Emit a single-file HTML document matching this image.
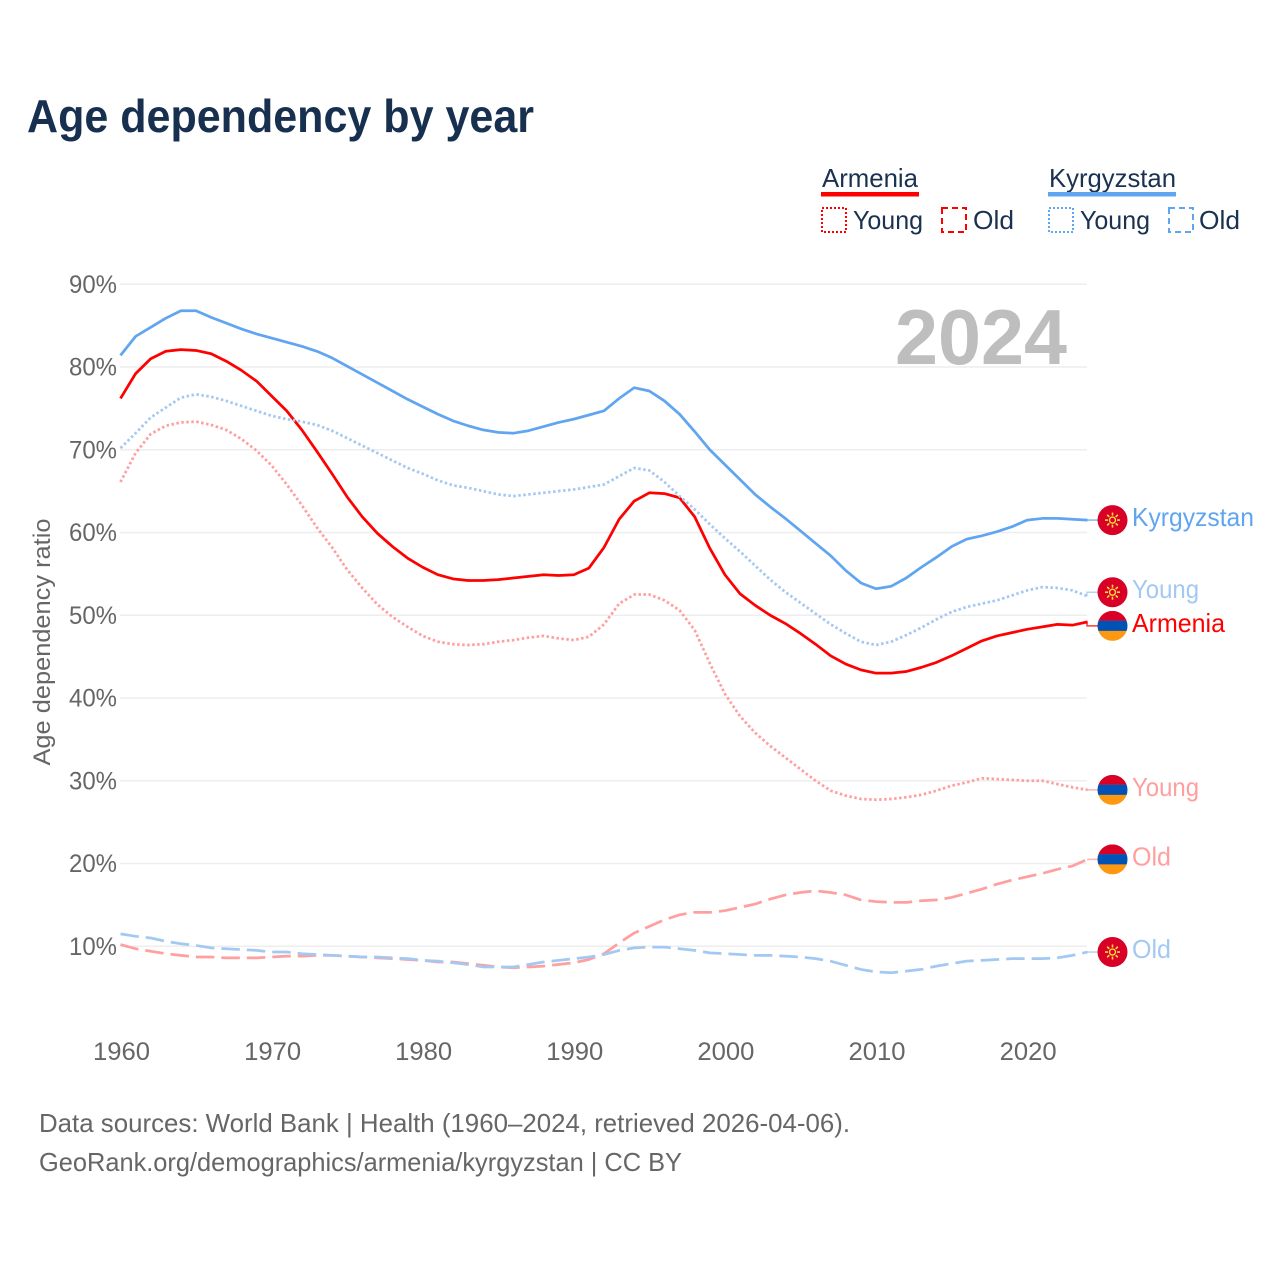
<!DOCTYPE html>
<html lang="en">
<head>
<meta charset="utf-8">
<title>Age dependency by year</title>
<style>
html,body{margin:0;padding:0;background:#fff;}
svg{display:block;font-family:"Liberation Sans",sans-serif;}
</style>
</head>
<body>
<svg id="chart" width="1280" height="1280" viewBox="0 0 1280 1280" xmlns="http://www.w3.org/2000/svg">
  <rect width="1280" height="1280" fill="#fff"/>
  <text x="27" y="132" font-size="46" font-weight="700" fill="#18304f" textLength="507" lengthAdjust="spacingAndGlyphs">Age dependency by year</text>

  <g font-size="26" fill="#1a3150">
    <text x="822" y="187" textLength="96" lengthAdjust="spacingAndGlyphs">Armenia</text>
    <rect x="821" y="192" width="98" height="4.5" fill="#ff0000"/>
    <rect x="822" y="208" width="24" height="24" fill="none" stroke="#ff0000" stroke-width="2" stroke-dasharray="2 2"/>
    <text x="853" y="229" textLength="70" lengthAdjust="spacingAndGlyphs">Young</text>
    <rect x="942" y="208" width="24" height="24" fill="none" stroke="#ff0000" stroke-width="2" stroke-dasharray="6 4"/>
    <text x="973" y="229" textLength="41" lengthAdjust="spacingAndGlyphs">Old</text>
    <text x="1049" y="187" textLength="127" lengthAdjust="spacingAndGlyphs">Kyrgyzstan</text>
    <rect x="1048" y="192" width="128" height="4.5" fill="#60a5f0"/>
    <rect x="1049" y="208" width="24" height="24" fill="none" stroke="#60a5f0" stroke-width="2" stroke-dasharray="2 2"/>
    <text x="1080" y="229" textLength="70" lengthAdjust="spacingAndGlyphs">Young</text>
    <rect x="1169" y="208" width="24" height="24" fill="none" stroke="#60a5f0" stroke-width="2" stroke-dasharray="6 4"/>
    <text x="1199" y="229" textLength="41" lengthAdjust="spacingAndGlyphs">Old</text>
  </g>

  <g id="grid"></g>
  <text x="895" y="364" font-size="78" font-weight="700" fill="#bebebe" textLength="172" lengthAdjust="spacingAndGlyphs">2024</text>
  <g id="y-axis"></g>
  <g id="x-axis"></g>
  <text transform="translate(50,642) rotate(-90)" text-anchor="middle" font-size="24" fill="#666666" textLength="247" lengthAdjust="spacingAndGlyphs">Age dependency ratio</text>
  <g id="series"></g>
  <g id="labels"></g>

  <g font-size="26" fill="#666666">
    <text x="39" y="1132" textLength="811" lengthAdjust="spacingAndGlyphs">Data sources: World Bank | Health (1960–2024, retrieved 2026-04-06).</text>
    <text x="39" y="1171" textLength="643" lengthAdjust="spacingAndGlyphs">GeoRank.org/demographics/armenia/kyrgyzstan | CC BY</text>
  </g>
</svg>
<script>
const firstYear = 1960;
const yTickValues = [10, 20, 30, 40, 50, 60, 70, 80, 90];
const yTickLabels = ["10%", "20%", "30%", "40%", "50%", "60%", "70%", "80%", "90%"];
const xTickValues = [1960, 1970, 1980, 1990, 2000, 2010, 2020];
const xTickLabels = ["1960", "1970", "1980", "1990", "2000", "2010", "2020"];

const kyrgyzstanTotal = [81.4,83.7,84.8,85.9,86.8,86.8,86.0,85.3,84.6,84.0,
  83.5,83.0,82.5,81.9,81.1,80.1,79.1,78.1,77.1,76.1,
  75.2,74.3,73.5,72.9,72.4,72.1,72.0,72.3,72.8,73.3,
  73.7,74.2,74.7,76.2,77.5,77.1,75.9,74.3,72.2,70.0,
  68.2,66.4,64.6,63.1,61.7,60.2,58.7,57.2,55.4,53.9,
  53.2,53.5,54.5,55.8,57.0,58.3,59.2,59.6,60.1,60.7,
  61.5,61.7,61.7,61.6,61.5];
const kyrgyzstanYoung = [70.2,72.0,73.9,75.1,76.3,76.7,76.4,75.9,75.3,74.7,
  74.1,73.7,73.4,73.0,72.3,71.4,70.5,69.6,68.7,67.8,
  67.1,66.3,65.7,65.4,65.0,64.6,64.4,64.6,64.8,65.0,
  65.2,65.5,65.8,66.8,67.8,67.5,66.1,64.4,62.8,61.0,
  59.3,57.7,56.0,54.3,52.8,51.5,50.2,48.9,47.8,46.8,
  46.4,46.8,47.6,48.5,49.5,50.4,51.0,51.4,51.8,52.4,
  53.0,53.4,53.3,53.0,52.3];
const kyrgyzstanOld = [11.5,11.2,11.0,10.6,10.3,10.1,9.8,9.7,9.6,9.5,
  9.3,9.3,9.1,9.0,8.9,8.8,8.7,8.7,8.6,8.5,
  8.3,8.2,8.0,7.8,7.5,7.5,7.5,7.8,8.1,8.3,
  8.5,8.7,9.0,9.5,9.8,9.9,9.9,9.7,9.5,9.2,
  9.1,9.0,8.9,8.9,8.8,8.7,8.5,8.2,7.7,7.2,
  6.9,6.8,7.0,7.2,7.6,7.9,8.2,8.3,8.4,8.5,
  8.5,8.5,8.6,8.9,9.3];
const armeniaTotal = [76.2,79.2,81.0,81.9,82.1,82.0,81.6,80.7,79.6,78.3,
  76.5,74.7,72.4,69.8,67.1,64.3,61.9,59.9,58.3,56.9,
  55.8,54.9,54.4,54.2,54.2,54.3,54.5,54.7,54.9,54.8,
  54.9,55.7,58.2,61.6,63.8,64.8,64.7,64.2,61.9,58.1,
  54.9,52.6,51.2,50.0,49.0,47.8,46.5,45.1,44.1,43.4,
  43.0,43.0,43.2,43.7,44.3,45.1,46.0,46.9,47.5,47.9,
  48.3,48.6,48.9,48.8,49.2];
const armeniaYoung = [66.1,69.6,71.9,72.9,73.3,73.4,73.0,72.4,71.3,69.9,
  68.1,65.8,63.3,60.6,58.2,55.5,53.3,51.3,49.8,48.6,
  47.5,46.8,46.5,46.4,46.5,46.8,47.0,47.3,47.5,47.2,
  47.0,47.4,48.9,51.4,52.5,52.5,51.8,50.6,48.2,44.2,
  40.5,37.8,35.8,34.2,32.8,31.4,30.0,28.8,28.2,27.8,
  27.7,27.8,28.0,28.3,28.8,29.4,29.8,30.3,30.2,30.1,
  30.0,30.0,29.6,29.2,28.9];
const armeniaOld = [10.2,9.7,9.4,9.1,8.9,8.7,8.7,8.6,8.6,8.6,
  8.7,8.8,8.8,8.9,8.9,8.8,8.7,8.6,8.5,8.4,
  8.3,8.1,8.1,7.9,7.7,7.5,7.4,7.5,7.6,7.8,
  8.0,8.4,9.1,10.4,11.6,12.4,13.2,13.8,14.1,14.1,
  14.3,14.7,15.1,15.7,16.2,16.5,16.7,16.5,16.2,15.6,
  15.4,15.3,15.3,15.5,15.6,15.9,16.4,16.9,17.5,18.0,
  18.4,18.8,19.3,19.7,20.5];

const NS = "http://www.w3.org/2000/svg";
const xScale = function (year) { return 120.5 + (year - firstYear) * 15.11; };
const yScale = function (value) { return 1029 - value * 8.275; };

function make(tag, attrs, parent) {
  const node = document.createElementNS(NS, tag);
  for (const key in attrs) node.setAttribute(key, attrs[key]);
  parent.appendChild(node);
  return node;
}

const gridGroup = document.getElementById("grid");
const yAxisGroup = document.getElementById("y-axis");
const xAxisGroup = document.getElementById("x-axis");
const seriesGroup = document.getElementById("series");
const labelsGroup = document.getElementById("labels");

yTickValues.forEach(function (value, i) {
  const line = make("line", {x1: 120, x2: 1087, y1: yScale(value), y2: yScale(value), stroke: "#eeeeee", "stroke-width": 1.5}, gridGroup);
  
  
  const tick = make("text", {x: 117, y: yScale(value) + 8.5, "text-anchor": "end", "font-size": 25, fill: "#666666", textLength: 48, lengthAdjust: "spacingAndGlyphs"}, yAxisGroup);
  tick.textContent = yTickLabels[i];
  
  
});

xTickValues.forEach(function (year, i) {
  const tick = make("text", {x: xScale(year) + 1, y: 1060, "text-anchor": "middle", "font-size": 25, fill: "#666666", textLength: 57, lengthAdjust: "spacingAndGlyphs"}, xAxisGroup);
  tick.textContent = xTickLabels[i];
  
  
});

function drawLine(values, color, dash, width, name) {
  const points = values.map(function (v, i) {
    return xScale(firstYear + i).toFixed(2) + "," + yScale(v).toFixed(2);
  }).join(" ");
  const line = make("polyline", {points: points, fill: "none", stroke: color, "stroke-width": width, "stroke-dasharray": dash, "stroke-linejoin": "round"}, seriesGroup);
  
  
}

function drawSun(flag, cx, cy) {
  make("circle", {cx: cx, cy: cy, r: 3, fill: "none", stroke: "#ffda44", "stroke-width": 1.4}, flag);
  for (let a = 0; a < 360; a += 45) {
    const r = a * Math.PI / 180;
    make("line", {x1: cx + 4.5 * Math.cos(r), y1: cy + 4.5 * Math.sin(r), x2: cx + 7.5 * Math.cos(r), y2: cy + 7.5 * Math.sin(r), stroke: "#ffda44", "stroke-width": 1.6}, flag);
  }
}

let clipCount = 0;
function drawFlag(country, cy) {
  const cx = 1112.5;
  const flag = make("g", {}, labelsGroup);
  
  
  if (country === "armenia") {
    clipCount += 1;
    const clip = make("clipPath", {id: "flag-clip-" + clipCount}, flag);
    make("circle", {cx: cx, cy: cy, r: 15}, clip);
    const bands = make("g", {"clip-path": "url(#flag-clip-" + clipCount + ")"}, flag);
    make("rect", {x: cx - 15, y: cy - 15, width: 30, height: 10, fill: "#d80027"}, bands);
    make("rect", {x: cx - 15, y: cy - 5.2, width: 30, height: 10.4, fill: "#0052b4"}, bands);
    make("rect", {x: cx - 15, y: cy + 5, width: 30, height: 10, fill: "#ff9811"}, bands);
  } else {
    make("circle", {cx: cx, cy: cy, r: 15, fill: "#d80027"}, flag);
    drawSun(flag, cx, cy);
  }
}

function drawEndLabel(values, country, text, color, nudge, textWidth, name) {
  const lastValue = values[values.length - 1];
  const lastY = yScale(lastValue);
  const labelY = lastY + nudge;
  const leader = make("polyline", {points: "1087," + lastY + " 1087," + labelY + " 1098," + labelY, fill: "none", stroke: color, "stroke-width": 1.5, opacity: 0.8}, labelsGroup);
  
  
  drawFlag(country, labelY);
  const label = make("text", {x: 1132, y: labelY + 6, "font-size": 26, fill: color, textLength: textWidth, lengthAdjust: "spacingAndGlyphs"}, labelsGroup);
  label.textContent = text;
  
  
}

const blue = "#60a5f0";
const lightBlue = "#a3c9f3";
const red = "#ff0000";
const lightRed = "#ff9f9f";

drawLine(armeniaOld, lightRed, "18.5 7", 2.75, "armenia-old-line");
drawLine(armeniaYoung, lightRed, "2.5 2.5", 2.75, "armenia-young-line");
drawLine(armeniaTotal, red, "none", 2.75, "armenia-total-line");
drawLine(kyrgyzstanOld, lightBlue, "18.5 7", 2.75, "kyrgyzstan-old-line");
drawLine(kyrgyzstanYoung, lightBlue, "2.5 2.5", 2.75, "kyrgyzstan-young-line");
drawLine(kyrgyzstanTotal, blue, "none", 2.75, "kyrgyzstan-total-line");

drawEndLabel(kyrgyzstanTotal, "kyrgyzstan", "Kyrgyzstan", blue, 0, 122, "kyrgyzstan-total");
drawEndLabel(kyrgyzstanYoung, "kyrgyzstan", "Young", lightBlue, -4, 67, "kyrgyzstan-young");
drawEndLabel(armeniaTotal, "armenia", "Armenia", red, 4, 93, "armenia-total");
drawEndLabel(armeniaYoung, "armenia", "Young", lightRed, 0, 67, "armenia-young");
drawEndLabel(armeniaOld, "armenia", "Old", lightRed, 0, 39, "armenia-old");
drawEndLabel(kyrgyzstanOld, "kyrgyzstan", "Old", lightBlue, 0, 39, "kyrgyzstan-old");
</script>
</body>
</html>
